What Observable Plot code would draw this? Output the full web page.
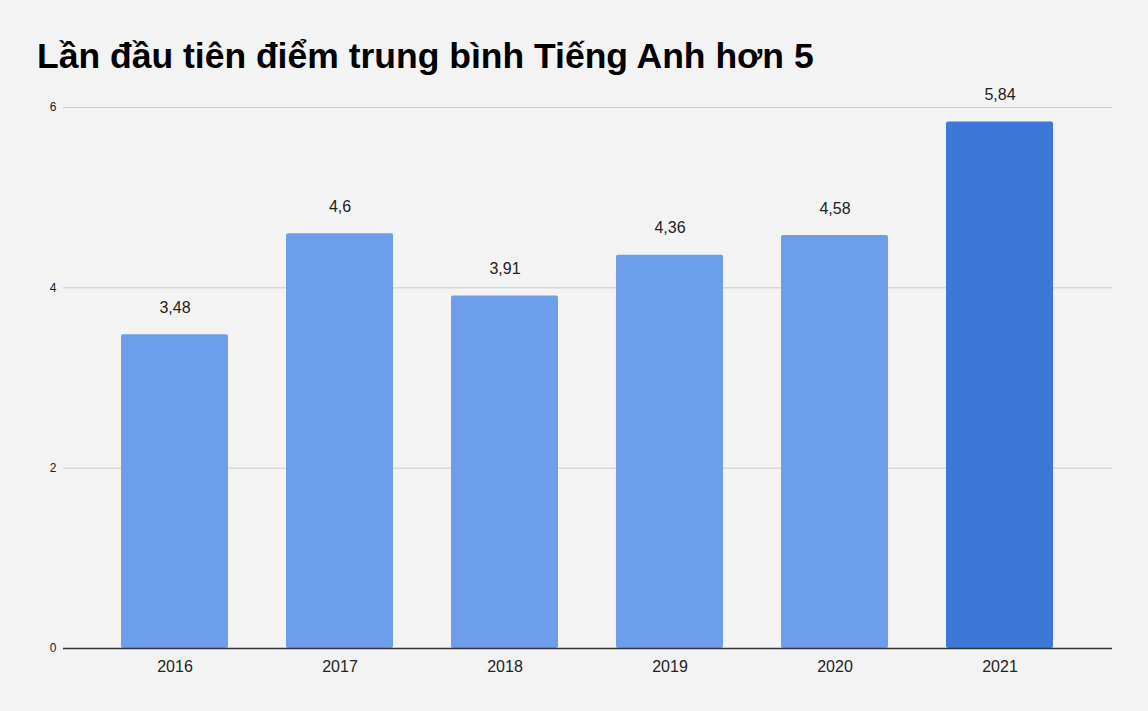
<!DOCTYPE html>
<html>
<head>
<meta charset="utf-8">
<script src="https://cdn.jsdelivr.net/npm/d3@7"></script>
<script src="https://cdn.jsdelivr.net/npm/@observablehq/plot@0.6"></script>
<style>
  html, body { margin: 0; padding: 0; background: #f3f3f3; }
  body { width: 1148px; height: 711px; overflow: hidden; font-family: "Liberation Sans", Arial, sans-serif; }
  #title { height: 78px; box-sizing: border-box; padding: 38px 0 0 37px; font-size: 35.5px; line-height: 36px; font-weight: bold; color: #000; white-space: nowrap; }
</style>
</head>
<body>
<div id="title">Lần đầu tiên điểm trung bình Tiếng Anh hơn 5</div>
<div id="chart"></div>
<script>
const years = ["2016", "2017", "2018", "2019", "2020", "2021"];
const scores = [3.48, 4.6, 3.91, 4.36, 4.58, 5.84];
const highlight = ["2021"];
const yTicks = [0, 2, 4, 6];

const data = years.map((y, i) => ({year: y, score: scores[i], hi: highlight.includes(y)}));
const fmt = v => String(v).replace(".", ",");

const chart = Plot.plot({
  width: 1148,
  height: 633,
  marginTop: 29,
  marginBottom: 63,
  marginLeft: 63,
  marginRight: 36,
  style: {background: "#f3f3f3", fontFamily: "'Liberation Sans', Arial, sans-serif", color: "#222", overflow: "visible"},
  x: {domain: years, paddingInner: 0.35, paddingOuter: 0.35, label: null},
  y: {domain: [0, 6], label: null},
  marks: [
    Plot.gridY(yTicks.filter(t => t > 0), {stroke: "#cccccc", strokeOpacity: 1, strokeWidth: 1}),
    Plot.barY(data, {x: "year", y: "score", fill: d => d.hi ? "#3c78d8" : "#6d9eeb", rx: 2}),
    Plot.ruleY([0], {stroke: "#333333", strokeWidth: 1.3}),
    Plot.axisY(yTicks, {tickSize: 0, tickPadding: 7, fontSize: 12, fill: "#222", tickFormat: d => String(d), label: null}),
    Plot.axisX({tickSize: 0, tickPadding: 12, fontSize: 16, fill: "#222", label: null}),
    Plot.text(data, {x: "year", y: "score", text: d => fmt(d.score), dy: -27, fontSize: 16, fill: "#222"})
  ]
});
document.getElementById("chart").appendChild(chart);
</script>
</body>
</html>
